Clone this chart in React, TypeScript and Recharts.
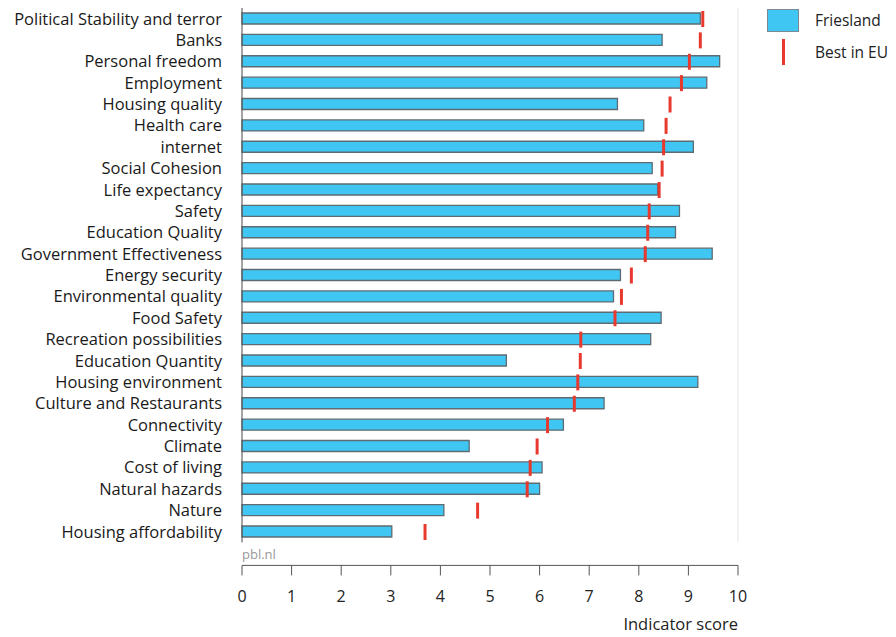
import React from 'react';
import { BarChart, Bar, XAxis, YAxis, CartesianGrid } from 'recharts';

const categories = [
  'Political Stability and terror', 'Banks', 'Personal freedom', 'Employment', 'Housing quality',
  'Health care', 'internet', 'Social Cohesion', 'Life expectancy', 'Safety', 'Education Quality',
  'Government Effectiveness', 'Energy security', 'Environmental quality', 'Food  Safety',
  'Recreation possibilities', 'Education Quantity', 'Housing environment', 'Culture and Restaurants',
  'Connectivity', 'Climate', 'Cost of living', 'Natural hazards', 'Nature', 'Housing affordability',
];
const friesland = [9.24, 8.47, 9.63, 9.37, 7.57, 8.1, 9.1, 8.27, 8.38, 8.82, 8.74, 9.48, 7.63, 7.49, 8.45, 8.24, 5.33, 9.19, 7.3, 6.48, 4.58, 6.05, 6.0, 4.07, 3.02];
const bestInEU = [9.29, 9.24, 9.02, 8.86, 8.63, 8.55, 8.5, 8.47, 8.41, 8.21, 8.18, 8.13, 7.85, 7.65, 7.52, 6.83, 6.82, 6.77, 6.7, 6.16, 5.95, 5.81, 5.75, 4.75, 3.69];
const xTicks = [0, 1, 2, 3, 4, 5, 6, 7, 8, 9, 10];

const data = categories.map((name, i) => ({ name, friesland: friesland[i], best: bestInEU[i] }));

const FONT = '"Open Sans", sans-serif';
const BLUE = '#3fc6f2';
const RED = '#e8392f';

const BestMark = (props: any) => {
  const { x, y, width, height } = props;
  const xe = x + width;
  return <line x1={xe} x2={xe} y1={y} y2={y + height} stroke={RED} strokeWidth={3} />;
};

const NoShape = () => null;

export default function App() {
  return (
    <div style={{ position: 'relative', width: 888, height: 629, fontFamily: FONT }}>
      <BarChart
        width={888}
        height={621}
        data={data}
        layout="vertical"
        margin={{ top: 0, right: 158, bottom: 23.6, left: 0 }}
        barCategoryGap={0}
      >
        <CartesianGrid xAxisId="a" horizontal={false} vertical stroke="#e6e6e6" />
        <XAxis xAxisId="a" type="number" domain={[0, 10]} ticks={xTicks} height={23} tick={false} axisLine={false} tickLine={false} />
        <XAxis
          xAxisId="z"
          type="number"
          domain={[0, 10]}
          ticks={xTicks}
          height={40}
          axisLine={{ stroke: '#555' }}
          tickLine={{ stroke: '#555' }}
          tickSize={10}
          tickMargin={15}
          tick={{ fontSize: 16, fill: '#222', fontFamily: FONT }}
        />
        <YAxis
          type="category"
          dataKey="name"
          width={234}
          interval={0}
          axisLine={{ stroke: '#555' }}
          tickLine={false}
          tickSize={0}
          tickMargin={20}
          tick={{ fontSize: 16.5, fill: '#1a1a1a', fontFamily: FONT }}
        />
        <YAxis yAxisId="b" type="category" dataKey="name" hide />
        <YAxis yAxisId="c" type="category" dataKey="name" hide />
        <Bar xAxisId="a" dataKey="friesland" fill={BLUE} stroke="#5f6b72" strokeWidth={1.3} barSize={11} isAnimationActive={false} />
        <Bar xAxisId="a" yAxisId="b" dataKey="best" barSize={16} shape={BestMark} isAnimationActive={false} />
        <Bar xAxisId="z" yAxisId="c" dataKey="best" shape={NoShape} isAnimationActive={false} />
      </BarChart>
      <div style={{ position: 'absolute', left: 234, top: 537, fontSize: 13, color: '#999' }}>pbl.nl</div>
      <div style={{ position: 'absolute', right: 158, top: 608, fontSize: 16.5, lineHeight: 1, color: '#222', whiteSpace: 'nowrap' }}>Indicator score</div>
      <div style={{ position: 'absolute', left: 759, top: 1, width: 32, height: 23, background: BLUE, border: '1px solid #7a8a92', boxSizing: 'border-box' }} />
      <div style={{ position: 'absolute', left: 807, top: 1, fontSize: 15.5, color: '#222' }}>Friesland</div>
      <div style={{ position: 'absolute', left: 774, top: 31, width: 3, height: 26, background: RED }} />
      <div style={{ position: 'absolute', left: 807, top: 33, fontSize: 15.5, color: '#222', whiteSpace: 'nowrap' }}>Best in EU</div>
    </div>
  );
}
